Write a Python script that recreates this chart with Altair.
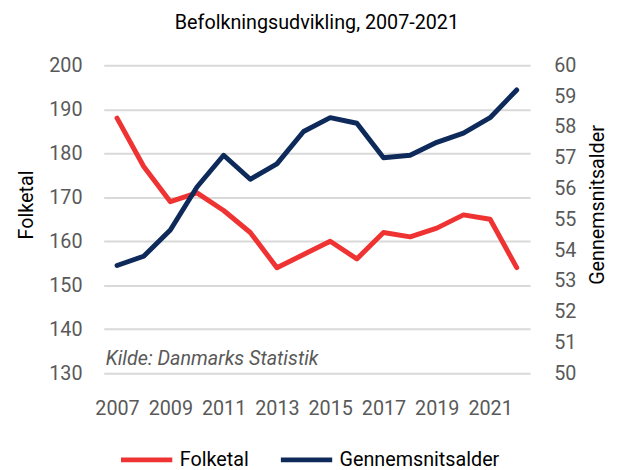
import altair as alt
import pandas as pd

years = [str(y) for y in range(2007, 2023)]
folketal = [188, 177, 169, 171, 167, 162, 154, 157, 160, 156, 162, 161, 163, 166, 165, 154]
alder = [53.5, 53.8, 54.65, 56.05, 57.08, 56.3, 56.8, 57.85, 58.3, 58.12, 57.0, 57.08, 57.5, 57.8, 58.3, 59.2]
series = ["Folketal", "Gennemsnitsalder"]
colors = ["#EF3333", "#0E2A5A"]
left_ticks = [130, 140, 150, 160, 170, 180, 190, 200]
right_ticks = [50, 51, 52, 53, 54, 55, 56, 57, 58, 59, 60]
x_labels = ["2007", "2009", "2011", "2013", "2015", "2017", "2019", "2021"]
title_text = "Befolkningsudvikling, 2007-2021"
source_text = ["Kilde: Danmarks Statistik"]

FONT = "Roboto"
GREY = "#595959"

df = pd.DataFrame({
    "year": years * 2,
    "value": folketal + alder,
    "series": [series[0]] * len(years) + [series[1]] * len(years),
})

color = alt.Color(
    "series:N",
    scale=alt.Scale(domain=series, range=colors),
    legend=alt.Legend(
        title=None, orient="none", direction="horizontal",
        legendX=15, legendY=371,
        symbolType="stroke", symbolSize=2704, symbolStrokeWidth=5,
        labelFont=FONT, labelFontSize=20, labelColor="black",
        labelOffset=5, columnPadding=22, labelLimit=300,
    ),
)

x = alt.X(
    "year:O",
    scale=alt.Scale(domain=years),
    axis=alt.Axis(
        title=None, values=x_labels, labelAngle=0, ticks=False, domain=False,
        labelFont=FONT, labelFontSize=20, labelColor=GREY, labelPadding=26,
        grid=False,
    ),
)

base = alt.Chart(df)

left = base.transform_filter(alt.datum.series == series[0]).mark_line(
    strokeWidth=5, strokeCap="round", strokeJoin="round"
).encode(
    x=x,
    y=alt.Y(
        "value:Q",
        scale=alt.Scale(domain=[130, 200], nice=False, zero=False),
        axis=alt.Axis(
            title="Folketal", values=left_ticks, ticks=False, domain=False,
            grid=True, gridColor="#D9D9D9", gridWidth=2,
            labelFont=FONT, labelFontSize=20, labelColor=GREY, labelPadding=22,
            titleFont=FONT, titleFontSize=20, titleFontWeight="normal",
            titleColor="black", titlePadding=12, titleY=141,
        ),
    ),
    color=color,
)

right = base.transform_filter(alt.datum.series == series[1]).mark_line(
    strokeWidth=5, strokeCap="round", strokeJoin="round"
).encode(
    x=x,
    y=alt.Y(
        "value:Q",
        scale=alt.Scale(domain=[50, 60], nice=False, zero=False),
        axis=alt.Axis(
            orient="right",
            title="Gennemsnitsalder", values=right_ticks, ticks=False, domain=False,
            grid=False,
            labelFont=FONT, labelFontSize=20, labelColor=GREY, labelPadding=24,
            titleFont=FONT, titleFontSize=20, titleFontWeight="normal",
            titleColor="black", titlePadding=12, titleY=141, titleAngle=270,
            titleBaseline="top",
        ),
    ),
    color=color,
)

note = alt.Chart(pd.DataFrame({"t": source_text})).mark_text(
    align="left", baseline="alphabetic", font=FONT, fontSize=20,
    fontStyle="italic", color=GREY,
).encode(
    text="t:N", x=alt.value(2), y=alt.value(304),
)

chart = alt.layer(left, right, note).resolve_scale(
    y="independent", color="shared"
).properties(
    width=432, height=312,
    autosize=alt.AutoSizeParams(type="none"),
    padding={"left": 97, "top": 55, "right": 81, "bottom": 100},
    title=alt.TitleParams(
        text=title_text, font=FONT, fontSize=20, fontWeight="normal",
        color="black", anchor="middle", offset=23,
    ),
).configure_view(stroke=None)

chart.save("out.html", embed_options={"renderer": "svg", "actions": False})
